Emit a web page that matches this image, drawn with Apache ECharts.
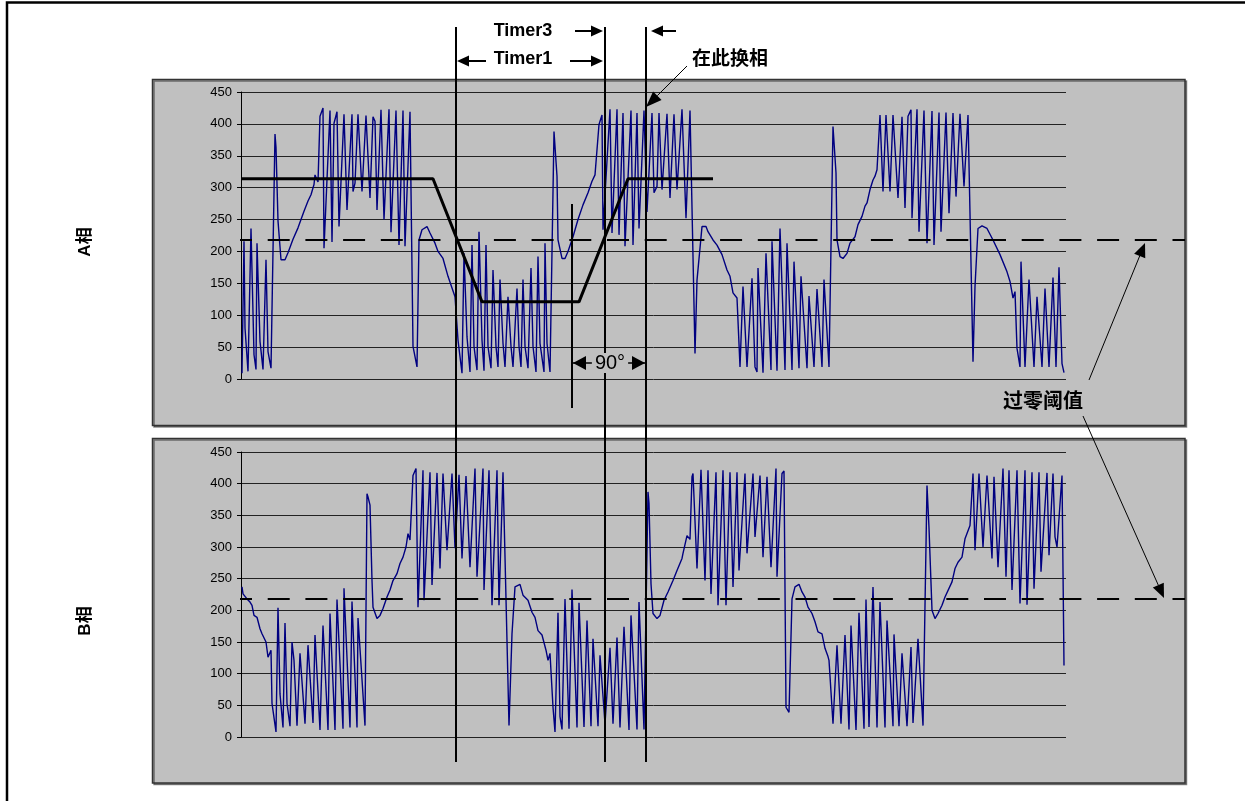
<!DOCTYPE html>
<html>
<head>
<meta charset="utf-8">
<title>A相 / B相 过零阈值</title>
<style>
  html, body { margin: 0; padding: 0; background: #fff; }
  #main { width: 1250px; height: 801px; }
</style>
<script src="https://cdn.jsdelivr.net/npm/echarts@6/dist/echarts.min.js"></script>
</head>
<body>
<div id="main"></div>
<script>
// 采样时间 t 与反电动势读数 [t, value]
const phaseA = [
  [1,9],[3,216],[4,80],[7,12],[10,236],[13,38],[15,15],[16,213],[19,59],[22,15],[25,187],[27,43],[30,17],
  [34,384],[35,363],[37,248],[40,187],[44,187],[47,198],[52,219],[57,237],[60,250],[63,263],[67,279],[70,289],[73,305],[74,320],[77,309],
  [79,412],[82,425],[83,205],[89,421],[91,215],[93,401],[96,419],[98,239],[103,415],[106,265],[111,415],[112,294],[114,307],[117,415],[121,294],[125,413],[129,284],[132,411],[134,404],[136,265],[140,422],[143,250],[148,423],[150,230],[155,421],[158,210],[162,421],[164,208],[169,419],
  [172,51],[176,19],[178,218],[181,234],[186,239],[189,229],[194,213],[197,200],[202,189],[207,161],[209,161],
  [214,129],[217,61],[221,9],[223,197],[226,66],[229,11],[231,210],[233,51],[236,14],[238,231],[241,61],[243,13],[245,210],[247,51],[250,17],[252,171],[255,51],[257,19],[259,156],[262,56],[264,19],[267,129],[268,130],[270,51],[272,19],[276,142],[278,51],[280,19],[282,156],[284,51],[287,17],[290,174],[292,51],[295,11],[297,192],[299,56],[303,11],[304,213],[306,56],[309,11],
  [313,388],[316,318],[317,218],[321,189],[324,189],[327,200],[332,223],[337,250],[342,273],[347,292],[351,310],[354,320],[356,318],
  [358,399],[361,414],[362,234],[369,423],[371,229],[376,423],[378,226],[382,417],[384,208],[390,421],[392,210],[396,417],[398,236],[403,421],[406,262],[411,417],[413,292],[416,302],[418,417],[421,297],[426,416],[429,284],[433,415],[436,297],[441,423],[445,252],[449,421],
  [454,40],[456,155],[461,239],[465,239],[467,231],[472,218],[476,210],[481,195],[486,171],[489,161],[492,135],[496,127],
  [499,19],[502,145],[506,19],[511,158],[514,19],[516,11],[517,174],[522,10],[525,197],[530,14],[531,216],[536,13],[539,236],[544,14],[546,213],[551,14],[553,184],[558,17],[560,161],[566,17],[568,130],[573,19],[576,141],[581,19],[583,156],[588,19],
  [592,396],[595,323],[596,218],[599,192],[602,189],[606,197],[609,213],[614,223],[617,242],[621,255],[624,271],[626,276],[629,297],[632,312],[634,318],[636,328],
  [639,414],[642,294],[645,414],[649,294],[652,414],[657,284],[661,411],[664,268],[667,412],[670,422],[671,252],[676,423],[678,231],[683,421],[686,213],[691,420],[693,210],[698,418],[700,231],[705,418],[708,260],[712,417],[715,286],[719,416],[723,302],[727,414],
  [732,27],[734,145],[737,236],[741,240],[746,236],[752,218],[759,195],[766,168],[769,153],[772,127],[774,137],
  [776,48],[779,19],[780,184],[784,19],[788,156],[793,19],[796,129],[797,130],[801,19],[804,142],[808,19],[812,159],[815,19],[818,175],[821,24],[823,10]
];

const phaseB = [
  [1,237],[2,226],[6,218],[9,213],[11,208],[13,192],[16,189],[19,171],[21,163],[23,164],[25,150],[27,126],[30,137],
  [31,53],[35,8],[37,204],[39,68],[42,15],[44,180],[46,53],[49,17],[51,150],[53,121],[56,18],[59,132],[61,134],[64,21],[67,145],[72,22],[74,161],[79,11],[82,176],[87,11],[89,195],[94,11],[96,217],[102,13],[103,235],[109,15],[111,214],[116,15],[117,188],[124,18],
  [126,384],[127,379],[129,366],[131,247],[132,205],[136,187],[139,192],[142,203],[146,221],[149,232],[152,247],[156,258],[159,274],[162,284],[165,300],[167,321],[169,311],
  [172,413],[175,424],[177,205],[182,421],[183,216],[189,418],[191,240],[196,417],[199,266],[202,416],[206,295],[211,416],[214,298],[218,414],[221,282],[225,412],[229,268],[234,424],[236,253],[242,424],[243,232],[248,421],[251,208],[256,421],[258,208],[262,418],
  [268,18],[271,163],[274,237],[279,241],[282,224],[287,216],[291,197],[294,189],[297,168],[301,161],[303,161],[305,137],[307,121],[309,132],
  [312,47],[314,8],[317,196],[319,32],[321,12],[324,218],[328,13],[331,233],[336,15],[338,212],[343,16],[346,184],[350,17],[352,155],[357,17],[359,129],[361,132],[364,21],[369,141],[372,21],[376,157],[379,15],[383,174],[388,11],[390,192],[396,12],[398,213],[403,12],
  [407,387],[408,369],[410,242],[412,195],[416,187],[419,192],[423,216],[427,229],[432,247],[436,263],[441,282],[442,290],[446,318],[447,321],[449,312],
  [451,411],[452,416],[456,266],[460,422],[464,247],[467,421],[470,226],[475,418],[477,208],[482,421],[485,208],[489,418],[492,237],[496,418],[498,263],[504,416],[506,290],[512,416],[514,316],[519,413],[522,284],[526,411],[530,268],[535,424],[536,253],[541,416],[543,420],
  [545,47],[548,39],[551,218],[554,237],[558,241],[561,229],[564,221],[567,205],[571,195],[574,182],[577,166],[581,163],[584,140],[587,127],[588,121],
  [592,21],[596,145],[600,21],[604,161],[608,12],[610,176],[615,11],[618,196],[623,13],[625,217],[628,16],[632,237],[636,15],[639,213],[644,15],[646,184],[652,17],[653,162],[658,17],[661,132],[662,129],[666,17],[670,142],[672,22],[677,155],[682,18],
  [686,397],[688,330],[691,200],[694,187],[697,195],[701,208],[704,221],[711,245],[714,266],[717,276],[721,284],[724,313],[726,313],[729,334],
  [732,416],[734,295],[738,416],[742,300],[746,413],[751,282],[753,411],[757,268],[762,424],[765,253],[768,421],[771,232],[776,421],[779,211],[784,421],[786,209],[791,418],[793,234],[798,418],[800,261],[806,417],[808,287],[812,416],[814,316],[816,300],[821,413],[823,113]
];

// Timer 梯形曲线
const timerT = [0, 192, 241, 338, 387, 472];
const timerV = [314, 314, 121, 121, 314, 314];

const zeroThreshold = 218;         // 过零阈值
const markT = [215, 364, 405];     // Timer1 起点, Timer1/Timer3 终点, 在此换相
const phase90T = [331, 405];       // 90° 区间
const yMax = 450;
const yStep = 50;

const FONT = 'Arial, "Liberation Sans", "Noto Sans CJK SC", sans-serif';

const chart = echarts.init(document.getElementById('main'), null, { renderer: 'canvas' });

function yAxisCfg(gridIndex) {
  return {
    type: 'value',
    gridIndex: gridIndex,
    min: 0,
    max: yMax,
    interval: yStep,
    axisLine: { show: true, lineStyle: { color: '#000', width: 1 } },
    axisTick: { show: true, length: 4, lineStyle: { color: '#000' } },
    axisLabel: { color: '#000', fontSize: 13, fontFamily: FONT, margin: 9 },
    splitLine: { show: true, lineStyle: { color: '#222', width: 1 } }
  };
}

function xAxisCfg(gridIndex) {
  return { type: 'value', gridIndex: gridIndex, min: 0, max: 825, show: false };
}

const option = {
  animation: false,
  backgroundColor: '#fff',
  grid: [
    { left: 241, width: 825, top: 92, height: 287 },
    { left: 241, width: 825, top: 452, height: 285 }
  ],
  xAxis: [xAxisCfg(0), xAxisCfg(1)],
  yAxis: [yAxisCfg(0), yAxisCfg(1)],
  series: [
    {
      name: 'A相',
      type: 'line',
      xAxisIndex: 0,
      yAxisIndex: 0,
      data: phaseA,
      symbol: 'none',
      lineStyle: { color: '#000080', width: 1.4 },
      z: 2
    },
    {
      name: 'B相',
      type: 'line',
      xAxisIndex: 1,
      yAxisIndex: 1,
      data: phaseB,
      symbol: 'none',
      lineStyle: { color: '#000080', width: 1.4 },
      z: 2
    },
    {
      name: 'Timer',
      type: 'line',
      xAxisIndex: 0,
      yAxisIndex: 0,
      data: timerT.map((t, i) => [t, timerV[i]]),
      symbol: 'none',
      clip: false,
      lineStyle: { color: '#000', width: 3 },
      z: 5
    }
  ]
};
chart.setOption(option);

// 由坐标轴换算出注释的位置
const X = t => chart.convertToPixel({ xAxisIndex: 0 }, t);
const YA = v => chart.convertToPixel({ yAxisIndex: 0 }, v);
const YB = v => chart.convertToPixel({ yAxisIndex: 1 }, v);

function arrow(x1, y1, x2, y2, len, half, w) {
  const a = Math.atan2(y2 - y1, x2 - x1);
  const bx = x2 - len * Math.cos(a);
  const by = y2 - len * Math.sin(a);
  const ox = -Math.sin(a) * half;
  const oy = Math.cos(a) * half;
  return [
    { type: 'line', z: 100, shape: { x1: x1, y1: y1, x2: bx, y2: by }, style: { stroke: '#000', lineWidth: w } },
    { type: 'polygon', z: 100, shape: { points: [[x2, y2], [bx + ox, by + oy], [bx - ox, by - oy]] }, style: { fill: '#000' } }
  ];
}

function label(x, y, text, font, extra) {
  return {
    type: 'text', z: 110, x: x, y: y,
    style: Object.assign({ text: text, font: font, fill: '#000', align: 'center', verticalAlign: 'middle' }, extra || {})
  };
}

const xm = markT.map(X);
const x90 = phase90T.map(X);
const yThA = YA(zeroThreshold);
const yThB = YB(zeroThreshold);

let els = [];

// 外框
els.push({ type: 'polyline', z: 1, shape: { points: [[7, 801], [7, 2.5], [1245, 2.5]] }, style: { stroke: '#000', lineWidth: 2.5, fill: null } });

// 灰色面板
[[79.5, 425.5], [438.5, 783]].forEach(p => {
  els.push({
    type: 'rect', z: -10,
    shape: { x: 152.5, y: p[0], width: 1032.5, height: p[1] - p[0] },
    style: { fill: '#C0C0C0', stroke: '#333', lineWidth: 1.5, shadowColor: 'rgba(0,0,0,0.45)', shadowOffsetX: 1.5, shadowOffsetY: 1.5, shadowBlur: 0 }
  });
});

// 过零阈值虚线
[yThA, yThB].forEach(y => {
  els.push({ type: 'line', z: 90, shape: { x1: X(0) - 1, y1: y, x2: 1185, y2: y }, style: { stroke: '#000', lineWidth: 2, lineDash: [22, 15.7], lineDashOffset: 10 } });
});

// 竖线
xm.forEach(x => {
  els.push({ type: 'line', z: 100, shape: { x1: x, y1: 27, x2: x, y2: 762 }, style: { stroke: '#000', lineWidth: 2 } });
});
els.push({ type: 'line', z: 100, shape: { x1: x90[0], y1: 204, x2: x90[0], y2: 408 }, style: { stroke: '#000', lineWidth: 2 } });

// Timer3 / Timer1 标注
els.push(label(523, 31, 'Timer3', 'bold 18px ' + FONT));
els = els.concat(arrow(575, 31, xm[1] - 2, 31, 12, 5.5, 2));
els = els.concat(arrow(676, 31, xm[2] + 5, 31, 12, 5.5, 2));
els.push(label(523, 59, 'Timer1', 'bold 18px ' + FONT));
els = els.concat(arrow(486, 61, xm[0] + 1, 61, 12, 5.5, 2));
els = els.concat(arrow(570, 61, xm[1] - 2, 61, 12, 5.5, 2));

// 在此换相
els.push(label(730, 60, '在此换相', 'bold 19px ' + FONT));
els = els.concat(arrow(687, 66, xm[2], 107, 16, 6, 1));

// 90°
els.push({ type: 'line', z: 100, shape: { x1: x90[0], y1: 363, x2: x90[1], y2: 363 }, style: { stroke: '#000', lineWidth: 1.5 } });
els = els.concat(arrow(x90[0] + 14, 363, x90[0] + 1, 363, 13, 7, 1.5));
els = els.concat(arrow(x90[1] - 14, 363, x90[1] - 1, 363, 13, 7, 1.5));
els.push(label((x90[0] + x90[1]) / 2 + 1, 363, '90°', '20px ' + FONT, { backgroundColor: '#C0C0C0', padding: [0, 3] }));

// 过零阈值
els.push(label(1043, 402, '过零阈值', 'bold 20px ' + FONT));
els = els.concat(arrow(1089, 380, 1145, yThA + 3, 14, 6, 1));
els = els.concat(arrow(1083, 416, 1164, yThB - 1, 14, 6, 1));

// A相 / B相
els.push(Object.assign(label(85, 242, 'A相', 'bold 17px ' + FONT), { rotation: Math.PI / 2 }));
els.push(Object.assign(label(85, 621, 'B相', 'bold 17px ' + FONT), { rotation: Math.PI / 2 }));

chart.setOption({ graphic: { elements: els } });
</script>
</body>
</html>
